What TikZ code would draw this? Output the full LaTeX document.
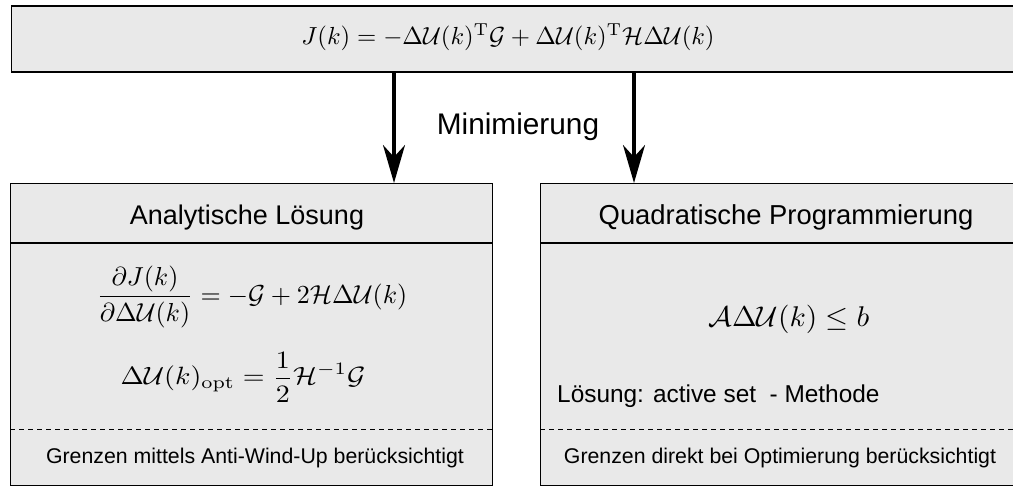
\documentclass[tikz,border=0pt]{standalone}
\usepackage{amsmath}
\usepackage{graphicx}
\usepackage[no-math]{fontspec}
\setmainfont{Liberation Sans}
\usetikzlibrary{arrows.meta}
\definecolor{boxgray}{RGB}{233,233,233}
\tikzset{
  box/.style={draw=black, fill=boxgray, line width=1.3pt, rectangle, inner sep=0pt, anchor=north west},
  arr/.style={line width=3.2pt, -{Stealth[length=38pt,width=22pt,inset=12pt]}},
  divider/.style={line width=1.2pt},
  dashdiv/.style={line width=1pt, dash pattern=on 5pt off 4pt},
  lbl/.style={inner sep=0pt, anchor=base},
}
\begin{document}
\begin{tikzpicture}[x=1pt,y=-1pt]
\useasboundingbox (0,0) rectangle (1013,487);
\clip (0,0) rectangle (1013,487);
% boxes
\node[box, line width=1.8pt, minimum width=1020pt, minimum height=65.5pt] (top) at (10.5,5.5) {};
\node[box, minimum width=482pt, minimum height=302pt] (lbox) at (10,183) {};
\node[box, minimum width=492pt, minimum height=302pt] (rbox) at (540,183) {};
% dividers
\coordinate (lt) at (0,243);
\coordinate (ld) at (0,429);
\draw[divider] (lbox.west |- lt) -- (lbox.east |- lt);
\draw[dashdiv] (lbox.west |- ld) -- (lbox.east |- ld);
\draw[divider] (rbox.west |- lt) -- (rbox.east |- lt);
\draw[dashdiv] (rbox.west |- ld) -- (rbox.east |- ld);
% arrows
\coordinate (aL) at (394,0);
\coordinate (aR) at (634,0);
\draw[arr] (top.south -| aL) -- (lbox.north -| aL);
\draw[arr] (top.south -| aR) -- (rbox.north -| aR);
% texts
\node[inner sep=0pt] (eqtop) at (508,37) {\scalebox{2.47}{$J(k) = -\Delta\mathcal{U}(k)^{\mathrm{T}}\mathcal{G} + \Delta\mathcal{U}(k)^{\mathrm{T}}\mathcal{H}\Delta\mathcal{U}(k)$}};
\node[lbl] (mini) at (518,135) {\fontsize{29.8}{36}\selectfont Minimierung};
\node[lbl] (ltitle) at (247,224) {\fontsize{27}{32}\selectfont Analytische Lösung};
\node[lbl] (rtitle) at (786,224) {\fontsize{27.4}{32}\selectfont Quadratische Programmierung};
\node[inner sep=0pt] (leq1) at (252,297) {\scalebox{2.6}{$\dfrac{\partial J(k)}{\partial\Delta\mathcal{U}(k)} = -\mathcal{G} + 2\mathcal{H}\Delta\mathcal{U}(k)$}};
\node[inner sep=0pt] (leq2) at (243,377) {\scalebox{2.8}[2.5]{$\displaystyle\Delta\mathcal{U}(k)_{\mathrm{opt}} = \frac{1}{2}\mathcal{H}^{-1}\mathcal{G}$}};
\node[inner sep=0pt] (req) at (789,319) {\scalebox{2.95}[2.85]{$\mathcal{A}\Delta\mathcal{U}(k)\leq b$}};
\node[inner sep=0pt, anchor=base west] (rsol) at (557,402) {\fontsize{24.4}{29}\selectfont Lösung: active set\ \ - Methode};
\node[lbl] (lfoot) at (255,463) {\fontsize{21.3}{26}\selectfont Grenzen mittels Anti-Wind-Up berücksichtigt};
\node[lbl] (rfoot) at (780,463) {\fontsize{21.3}{26}\selectfont Grenzen direkt bei Optimierung berücksichtigt};
\end{tikzpicture}
\end{document}
